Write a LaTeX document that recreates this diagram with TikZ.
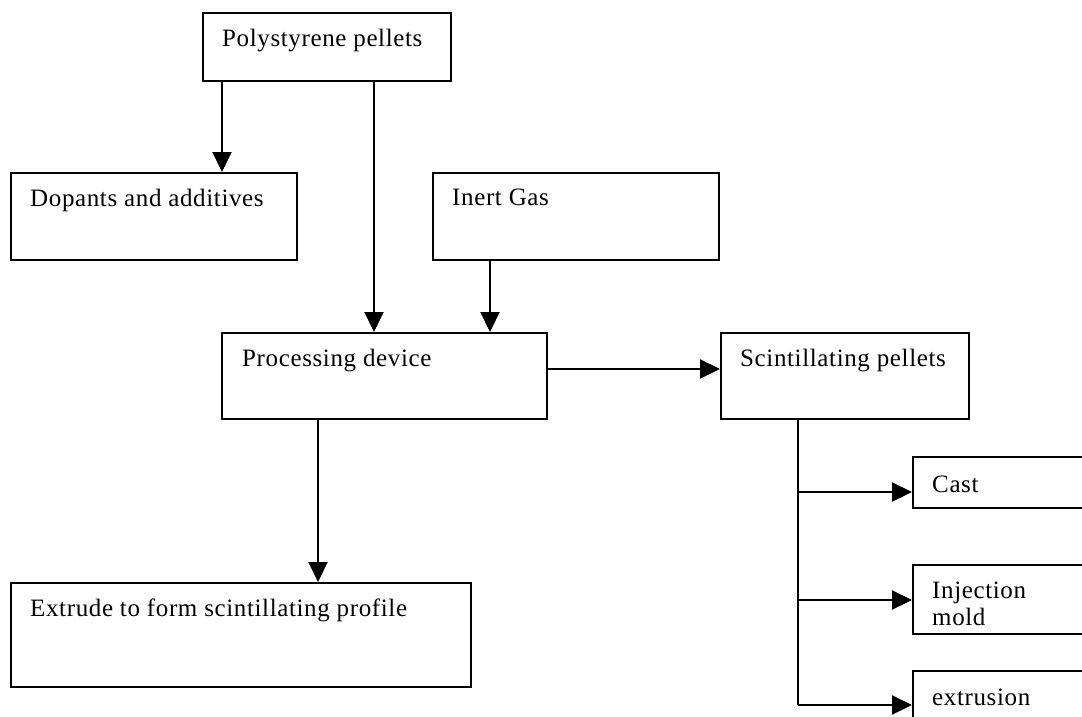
\documentclass[tikz,border=0pt]{standalone}
\usepackage{fontspec}
\setmainfont{Liberation Serif}[LetterSpace=2.5]
\usetikzlibrary{arrows.meta}
\begin{document}
\begin{tikzpicture}[x=1pt,y=-1pt,
  box/.style={draw, line width=2.2pt, rectangle, inner sep=0pt, anchor=north west},
  txt/.style={anchor=base west, inner sep=0pt, font=\fontsize{25}{28}\selectfont},
  arr/.style={line width=2.2pt, -{Triangle[length=20pt,width=19pt]}},
  ln/.style={line width=2.2pt}]
\path[use as bounding box, clip] (0,0) rectangle (1082,716);
\fill[white] (0,0) rectangle (1082,716);
% boxes
\node[box, minimum width=248pt, minimum height=68pt] (pp) at (202,12) {};
\node[box, minimum width=286pt, minimum height=87pt] (dop) at (10,172) {};
\node[box, minimum width=286pt, minimum height=87pt] (gas) at (432,172) {};
\node[box, minimum width=325pt, minimum height=86pt] (proc) at (221,332) {};
\node[box, minimum width=248pt, minimum height=86pt] (scint) at (720,332) {};
\node[box, minimum width=460pt, minimum height=104pt] (extr) at (10,582) {};
\node[box, minimum width=200pt, minimum height=51pt] (cast) at (912,456) {};
\node[box, minimum width=200pt, minimum height=69pt] (inj) at (912,564) {};
\node[box, minimum width=200pt, minimum height=70pt] (ext) at (912,670) {};
% texts
\node[txt] (tpp) at ([xshift=20pt,yshift=-34pt]pp.north west) {Polystyrene pellets};
\node[txt] (tdop) at ([xshift=20pt,yshift=-34pt]dop.north west) {Dopants and additives};
\node[txt] (tgas) at ([xshift=20pt,yshift=-33pt]gas.north west) {Inert Gas};
\node[txt] (tproc) at ([xshift=21pt,yshift=-34pt]proc.north west) {Processing device};
\node[txt] (tscint) at ([xshift=20pt,yshift=-34pt]scint.north west) {Scintillating pellets};
\node[txt] (textr) at ([xshift=20pt,yshift=-34pt]extr.north west) {Extrude to form scintillating profile};
\node[txt] (tcast) at ([xshift=20pt,yshift=-36pt]cast.north west) {Cast};
\node[txt] (tinj) at ([xshift=20pt,yshift=-34pt]inj.north west) {Injection};
\node[txt] (tmold) at ([xshift=20pt,yshift=-61pt]inj.north west) {mold};
\node[txt] (text) at ([xshift=20pt,yshift=-35pt]ext.north west) {extrusion};
% guide coordinates
\coordinate (c1) at (222,0);
\coordinate (c2) at (374,0);
\coordinate (c3) at (490,0);
\coordinate (c4) at (0,369);
\coordinate (c5) at (318,0);
\coordinate (c6) at (798,0);
\coordinate (b1) at (0,492);
\coordinate (b2) at (0,600);
\coordinate (b3) at (0,705);
% connectors
\draw[arr] (pp.south -| c1) -- (dop.north -| c1);
\draw[arr] (pp.south -| c2) -- (proc.north -| c2);
\draw[arr] (gas.south -| c3) -- (proc.north -| c3);
\draw[arr] (proc.east |- c4) -- (scint.west |- c4);
\draw[arr] (proc.south -| c5) -- (extr.north -| c5);
\coordinate (j3) at (c6 |- b3);
\draw[ln] (scint.south -| c6) -- (j3);
\draw[arr] (c6 |- b1) -- (cast.west |- b1);
\draw[arr] (c6 |- b2) -- (inj.west |- b2);
\draw[arr] (j3) -- (ext.west |- b3);
\end{tikzpicture}
\end{document}
